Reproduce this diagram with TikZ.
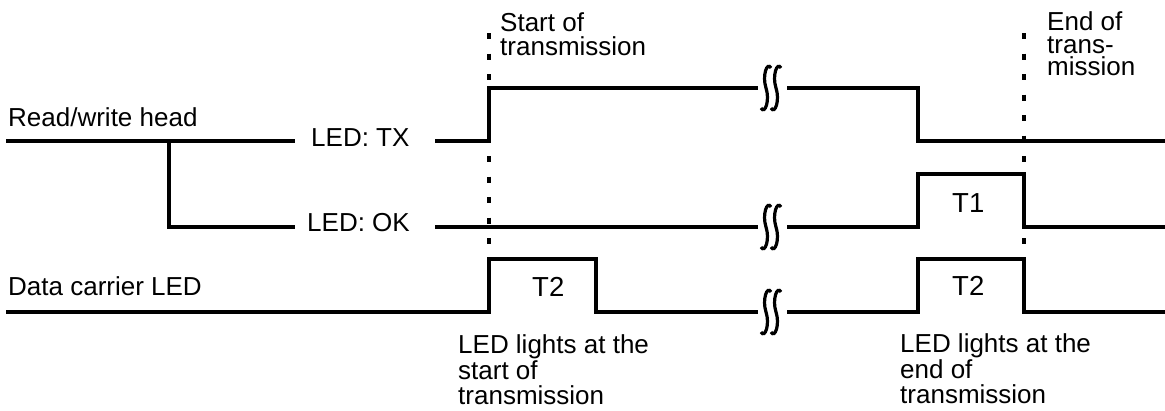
\documentclass[tikz,border=0pt]{standalone}
\usepackage{fontspec}
\setmainfont{Liberation Sans}
\begin{document}
\begin{tikzpicture}[x=1pt,y=-1pt,
  wave/.style={line width=3.8pt, line join=miter},
  squigline/.style={line width=3.2pt},
  guide/.style={line width=3.6pt, dash pattern=on 6pt off 14.5pt},
  lbl/.style={anchor=base west, inner sep=0pt, text height=17pt, text depth=5pt,
    font=\fontsize{26}{26}\selectfont},
  squig/.pic={
    \draw[squigline] (5,-20) .. controls (1,-27) and (-4,-12) .. (0,0)
                     .. controls (4,12) and (-1,27) .. (-5,20);
  }]
\useasboundingbox (0,0) rectangle (1165,410);

% guide lines
\coordinate (gs1) at (489,33); \coordinate (gs2) at (489,256);
\coordinate (ge1) at (1024,33); \coordinate (ge2) at (1024,256);
\draw[guide] (gs1) -- (gs2);
\draw[guide] (ge1) -- (ge2);

% labels
\node[lbl] (rw) at (8,126.5) {Read/write head};
\node[lbl] (dc) at (8,295) {Data carrier LED};
\node[lbl] (tx) at (311,146.5) {LED: TX};
\node[lbl] (ok) at (307,231.5) {LED: OK};
\node[lbl] (st1) at (500,31.5) {Start of};
\node[lbl] (st2) at (500,55) {transmission};
\node[lbl] (en1) at (1047,30) {End of};
\node[lbl] (en2) at (1047,53) {trans-};
\node[lbl] (en3) at (1047,75.5) {mission};
\node[lbl, font=\fontsize{27.5}{27.5}\selectfont] (t1) at (952,212) {T1};
\node[lbl, font=\fontsize{27.5}{27.5}\selectfont] (t2a) at (532,296) {T2};
\node[lbl, font=\fontsize{27.5}{27.5}\selectfont] (t2b) at (952,295) {T2};
\node[lbl] (ls1) at (458,353) {LED lights at the};
\node[lbl] (ls2) at (458,379) {start of};
\node[lbl] (ls3) at (458,404) {transmission};
\node[lbl] (le1) at (900,352) {LED lights at the};
\node[lbl] (le2) at (900,378) {end of};
\node[lbl] (le3) at (900,403) {transmission};

% TX
\draw[wave] (6,141) -- (295,141);
\draw[wave] (435,141) -- (489,141) -- (489,88) -- (758,88);
\draw[wave] (787,88) -- (918,88) -- (918,141) -- (1165,141);
% branch + OK
\draw[wave] (169,141) -- (169,227) -- (295,227);
\draw[wave] (435,227) -- (758,227);
\draw[wave] (787,227) -- (918,227) -- (918,174) -- (1024,174) -- (1024,227) -- (1165,227);
% Data carrier
\draw[wave] (6,312) -- (489,312) -- (489,259) -- (596,259) -- (596,312) -- (758,312);
\draw[wave] (787,312) -- (918,312) -- (918,259) -- (1024,259) -- (1024,312) -- (1165,312);

% squiggles
\foreach \yy in {88,227,312}{
  \pic at (766,\yy) {squig};
  \pic at (776,\yy) {squig};
}
\end{tikzpicture}
\end{document}
